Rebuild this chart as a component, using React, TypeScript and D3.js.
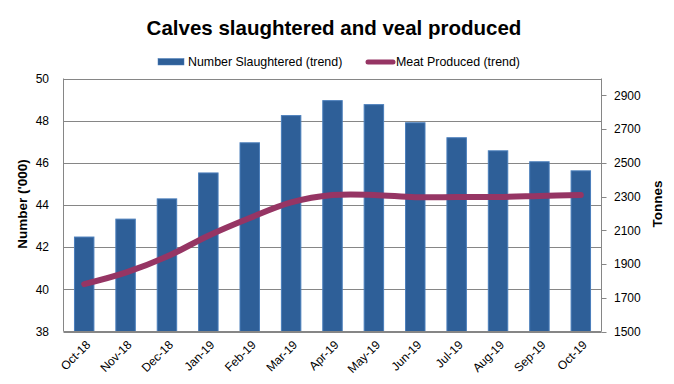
import React from "react";
import * as d3 from "d3";

const months = ["Oct-18","Nov-18","Dec-18","Jan-19","Feb-19","Mar-19","Apr-19","May-19","Jun-19","Jul-19","Aug-19","Sep-19","Oct-19"];
const numberSlaughtered = [42.48,43.33,44.29,45.52,46.95,48.24,48.95,48.76,47.9,47.19,46.57,46.05,45.62];
const meatProduced = [1781,1849,1944,2068,2173,2265,2309,2310,2296,2297,2298,2304,2310];
const leftTicks = [38,40,42,44,46,48,50];
const rightTicks = [1500,1700,1900,2100,2300,2500,2700,2900];

const W = 674, H = 384;
const X0 = 63.5, X1 = 601.5, Y0 = 78.5, Y1 = 331.5;
const grid = "#868686";
const barFill = "#2E5F98";
const barStroke = "#4A7EBB";
const lineColor = "#963564";
const font = "'Liberation Sans', Arial, sans-serif";

export default function App() {
  const x = d3.scaleBand<string>().domain(months).range([X0, X1]).paddingInner(0.53).paddingOuter(0.265);
  const yL = d3.scaleLinear().domain([38, 50]).range([Y1, Y0]);
  const yR = d3.scaleLinear().domain([1500, 3000]).range([Y1, Y0]);
  const cx = (m: string) => (x(m) as number) + x.bandwidth() / 2;
  const line = d3.line<number>().x((_, i) => cx(months[i])).y(d => yR(d)).curve(d3.curveCatmullRom.alpha(0.5));

  return (
    <svg width={W} height={H} style={{ position: "absolute", left: 0, top: 0, background: "#fff" }} fontFamily={font}>
      <rect x={0} y={0} width={W} height={H} fill="#fff" />
      <text x={334} y={35} textAnchor="middle" fontSize={20.5} fontWeight="bold" fill="#000">Calves slaughtered and veal produced</text>
      {/* legend */}
      <rect x={158} y={58.5} width={26} height={6.5} fill={barFill} stroke={barStroke} strokeWidth={0.5} />
      <text x={188} y={66} fontSize={12.4} fill="#000">Number Slaughtered (trend)</text>
      <line x1={368} x2={393} y1={62} y2={62} stroke={lineColor} strokeWidth={5} strokeLinecap="round" />
      <text x={396} y={66} fontSize={12.4} fill="#000">Meat Produced (trend)</text>
      {/* grid */}
      {leftTicks.map(t => (
        <line key={"g" + t} x1={X0} x2={X1} y1={Math.round(yL(t)) + 0.5} y2={Math.round(yL(t)) + 0.5} stroke={grid} strokeWidth={1} />
      ))}
      {/* bars */}
      {numberSlaughtered.map((v, i) => (
        <rect key={"b" + i} x={x(months[i])} y={yL(v)} width={x.bandwidth()} height={Y1 - yL(v)} fill={barFill} stroke={barStroke} strokeWidth={1} />
      ))}
      {/* axes */}
      <line x1={X0} x2={X0} y1={Y0} y2={Y1} stroke={grid} />
      <line x1={X1} x2={X1} y1={Y0} y2={Y1} stroke={grid} />
      <line x1={X0} x2={X1} y1={Y1} y2={Y1} stroke={grid} />
      {rightTicks.map(t => (
        <g key={"r" + t}>
          <line x1={X1} x2={X1 + 5} y1={Math.round(yR(t)) + 0.5} y2={Math.round(yR(t)) + 0.5} stroke={grid} />
          <text x={614} y={yR(t)} dy="0.35em" fontSize={12} fill="#000">{t}</text>
        </g>
      ))}
      {leftTicks.map(t => (
        <text key={"l" + t} x={49} y={yL(t)} dy="0.35em" textAnchor="end" fontSize={12} fill="#000">{t}</text>
      ))}
      {/* line */}
      <path d={line(meatProduced) || ""} fill="none" stroke={lineColor} strokeWidth={6} strokeLinecap="round" strokeLinejoin="round" />
      {/* x labels */}
      {months.map(m => (
        <text key={"x" + m} transform={`translate(${cx(m) + 4},${Y1 + 11}) rotate(-45)`} textAnchor="end" dy="0.35em" fontSize={12} fill="#000">{m}</text>
      ))}
      <text transform={`translate(22,204) rotate(-90)`} textAnchor="middle" dy="0.35em" fontSize={13.5} fontWeight="bold" fill="#000">Number ('000)</text>
      <text transform={`translate(657,204) rotate(-90)`} textAnchor="middle" dy="0.35em" fontSize={13.5} fontWeight="bold" fill="#000">Tonnes</text>
    </svg>
  );
}
